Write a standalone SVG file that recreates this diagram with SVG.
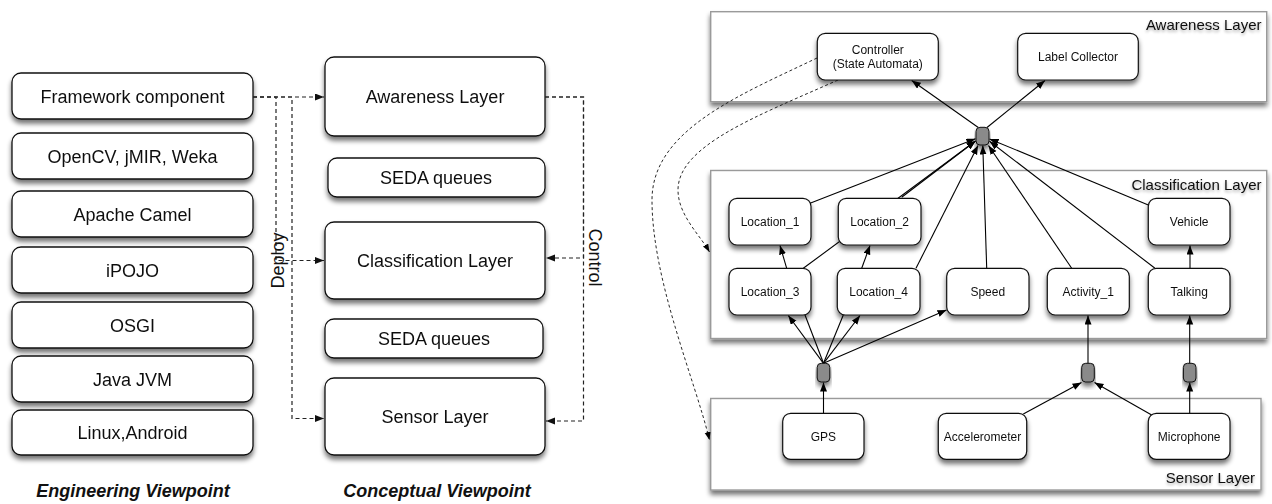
<svg xmlns="http://www.w3.org/2000/svg" width="1272" height="504" viewBox="0 0 1272 504">
<defs>
<filter id="sh" x="-10%" y="-20%" width="120%" height="160%">
<feGaussianBlur in="SourceAlpha" stdDeviation="2.5"/>
<feOffset dx="0" dy="4" result="b"/>
<feComponentTransfer><feFuncA type="linear" slope="0.55"/></feComponentTransfer>
<feMerge><feMergeNode/><feMergeNode in="SourceGraphic"/></feMerge>
</filter>
<filter id="tsh" x="-10%" y="-40%" width="120%" height="200%">
<feGaussianBlur in="SourceAlpha" stdDeviation="1.5"/>
<feOffset dx="0" dy="2"/>
<feComponentTransfer><feFuncA type="linear" slope="0.35"/></feComponentTransfer>
<feMerge><feMergeNode/><feMergeNode in="SourceGraphic"/></feMerge>
</filter>
<marker id="aL" markerUnits="userSpaceOnUse" markerWidth="10" markerHeight="8" refX="9" refY="3.5" orient="auto"><path d="M0,0 L9,3.5 L0,7 z" fill="#111"/></marker>
<marker id="aR" markerUnits="userSpaceOnUse" markerWidth="10" markerHeight="8" refX="9" refY="3.5" orient="auto"><path d="M0,0 L9,3.5 L0,7 z" fill="#000"/></marker>
<marker id="aD" markerUnits="userSpaceOnUse" markerWidth="9" markerHeight="7" refX="8" refY="3" orient="auto"><path d="M0,0 L8,3 L0,6 z" fill="#000"/></marker>
</defs>
<style>
.bx{fill:#fff;stroke:#111;stroke-width:1.3}
.lyr{fill:#fff;stroke:#9a9a9a;stroke-width:1.4}
.nd{fill:#fff;stroke:#111;stroke-width:1.2}
.jn{fill:#8a8a8a;stroke:#111;stroke-width:1}
.t18{font-family:"Liberation Sans",Arial,sans-serif;font-size:18px;fill:#111;text-anchor:middle}
.t12{font-family:"Liberation Sans",Arial,sans-serif;font-size:12px;fill:#111;text-anchor:middle}
.tl{font-family:"Liberation Sans",Arial,sans-serif;font-size:15px;fill:#111;text-anchor:end}
.cap{font-family:"Liberation Sans",Arial,sans-serif;font-size:18px;font-weight:bold;font-style:italic;fill:#111;text-anchor:middle}
.dl{fill:none;stroke:#222;stroke-width:1.2;stroke-dasharray:4,3}
.dc{fill:none;stroke:#111;stroke-width:0.9;stroke-dasharray:3,2.5}
.sl{fill:none;stroke:#000;stroke-width:1.1}
</style>

<!-- Engineering viewpoint -->
<g id="eng-framework" filter="url(#sh)"><rect class="bx" x="12" y="73" width="241" height="46" rx="9"/><text class="t18" x="132.5" y="102.5">Framework component</text></g>
<g id="eng-opencv" filter="url(#sh)"><rect class="bx" x="12" y="133" width="241" height="46" rx="9"/><text class="t18" x="132.5" y="162.5">OpenCV, jMIR, Weka</text></g>
<g id="eng-camel" filter="url(#sh)"><rect class="bx" x="12" y="191" width="241" height="46" rx="9"/><text class="t18" x="132.5" y="220.5">Apache Camel</text></g>
<g id="eng-ipojo" filter="url(#sh)"><rect class="bx" x="12" y="247" width="241" height="46" rx="9"/><text class="t18" x="132.5" y="276.5">iPOJO</text></g>
<g id="eng-osgi" filter="url(#sh)"><rect class="bx" x="12" y="302" width="241" height="46" rx="9"/><text class="t18" x="132.5" y="331.5">OSGI</text></g>
<g id="eng-jvm" filter="url(#sh)"><rect class="bx" x="12" y="356" width="241" height="46" rx="9"/><text class="t18" x="132.5" y="385.5">Java JVM</text></g>
<g id="eng-linux" filter="url(#sh)"><rect class="bx" x="12" y="410" width="241" height="45" rx="9"/><text class="t18" x="132.5" y="439">Linux,Android</text></g>

<!-- Conceptual viewpoint -->
<g id="con-awareness" filter="url(#sh)"><rect class="bx" x="325" y="57" width="220" height="79" rx="9"/><text class="t18" x="435" y="103">Awareness Layer</text></g>
<g id="con-seda1" filter="url(#sh)"><rect class="bx" x="328" y="158" width="217" height="39" rx="9"/><text class="t18" x="436" y="184">SEDA queues</text></g>
<g id="con-classification" filter="url(#sh)"><rect class="bx" x="325" y="222" width="220" height="77" rx="9"/><text class="t18" x="435" y="267">Classification Layer</text></g>
<g id="con-seda2" filter="url(#sh)"><rect class="bx" x="325" y="319" width="218" height="39" rx="9"/><text class="t18" x="434" y="345">SEDA queues</text></g>
<g id="con-sensor" filter="url(#sh)"><rect class="bx" x="325" y="378" width="220" height="77" rx="9"/><text class="t18" x="435" y="423">Sensor Layer</text></g>

<text class="cap" x="133" y="497">Engineering Viewpoint</text>
<text class="cap" x="437" y="497">Conceptual Viewpoint</text>

<!-- Right: layer containers -->
<g id="layer-awareness"><rect class="lyr" x="710.7" y="11.7" width="556" height="90" filter="url(#sh)"/><text class="tl" x="1261.5" y="29.5" filter="url(#tsh)">Awareness Layer</text></g>
<g id="layer-classification"><rect class="lyr" x="710.7" y="170.5" width="556" height="168" filter="url(#sh)"/><text class="tl" x="1261.5" y="190" filter="url(#tsh)">Classification Layer</text></g>
<g id="layer-sensor"><rect class="lyr" x="710.7" y="398.5" width="550.3" height="91.5" filter="url(#sh)"/><text class="tl" x="1255" y="482.7" filter="url(#tsh)">Sensor Layer</text></g>

<!-- connectors -->
<g id="connectors">
<!-- deploy -->
<path class="dl" d="M253,97 H324" marker-end="url(#aL)"/>
<path class="dl" d="M253,97 H276 V260.5 H324" marker-end="url(#aL)"/>
<path class="dl" d="M253,97 H292 V418.5 H324" marker-end="url(#aL)"/>
<!-- control -->
<path class="dl" d="M545,97 H583.5 V258 H546" marker-end="url(#aL)"/>
<path class="dl" d="M545,97 H583.5 V421 H546" marker-end="url(#aL)"/>
<!-- dashed curves from controller -->
<path class="dc" d="M817,58 C740,95 652,130 652,200 C652,280 695,380 709.5,440" marker-end="url(#aD)"/>
<path class="dc" d="M838,80 C760,115 678,145 678,190 C678,215 700,235 709.5,252" marker-end="url(#aD)"/>
<!-- top junction to awareness nodes -->
<path class="sl" d="M978.3,127.5 L911.7,80.5" marker-end="url(#aR)"/>
<path class="sl" d="M987,127.5 L1045,80.5" marker-end="url(#aR)"/>
<!-- classification to top junction -->
<path class="sl" d="M810,203.3 L975.5,138.8" marker-end="url(#aR)"/>
<path class="sl" d="M803.3,268.3 L975.5,141" marker-end="url(#aR)"/>
<path class="sl" d="M901.7,197.3 L975.5,141" marker-end="url(#aR)"/>
<path class="sl" d="M916,268.3 L978,145.5" marker-end="url(#aR)"/>
<path class="sl" d="M986.7,268.3 L982.8,145.5" marker-end="url(#aR)"/>
<path class="sl" d="M1071.7,268.3 L988.5,145.5" marker-end="url(#aR)"/>
<path class="sl" d="M1155,268.3 L989.5,141.2" marker-end="url(#aR)"/>
<path class="sl" d="M1148.3,205 L989.5,138.9" marker-end="url(#aR)"/>
<!-- inside classification -->
<path class="sl" d="M786.7,268.3 L780,245.5" marker-end="url(#aR)"/>
<path class="sl" d="M861.7,268.3 L870,245.5" marker-end="url(#aR)"/>
<path class="sl" d="M1190,268.3 V245.5" marker-end="url(#aR)"/>
<!-- GPS junction -->
<path class="sl" d="M823.5,413.3 V382.5" marker-end="url(#aR)"/>
<path class="sl" d="M823.5,363.3 L788.3,315.5" marker-end="url(#aR)"/>
<path class="sl" d="M823.5,363.3 L860,315.5" marker-end="url(#aR)"/>
<path class="sl" d="M823.5,363.3 L946.5,310" marker-end="url(#aR)"/>
<path class="sl" d="M805,315 L823.5,363.3"/>
<path class="sl" d="M843.3,315 L823.5,363.3"/>
<!-- accelerometer / microphone junctions -->
<path class="sl" d="M1023.3,414 L1081.5,382.5" marker-end="url(#aR)"/>
<path class="sl" d="M1151.7,415 L1094.5,382.5" marker-end="url(#aR)"/>
<path class="sl" d="M1088,363.3 V315.5" marker-end="url(#aR)"/>
<path class="sl" d="M1189.7,413.3 V382.5" marker-end="url(#aR)"/>
<path class="sl" d="M1189.7,363.3 V315.5" marker-end="url(#aR)"/>
</g>

<!-- junctions -->
<g id="junction-top"><rect class="jn" x="976" y="127.3" width="13" height="17.7" rx="4" filter="url(#sh)"/></g>
<g id="junction-gps"><rect class="jn" x="817.2" y="363.3" width="12.6" height="18.7" rx="4" filter="url(#sh)"/></g>
<g id="junction-acc"><rect class="jn" x="1081.7" y="363.3" width="12.6" height="18.7" rx="4" filter="url(#sh)"/></g>
<g id="junction-mic"><rect class="jn" x="1183.4" y="363.3" width="12.6" height="18.7" rx="4" filter="url(#sh)"/></g>

<!-- awareness nodes -->
<g id="controller" filter="url(#sh)"><rect class="nd" x="817.3" y="33.3" width="121" height="46.7" rx="8"/><text class="t12" x="877.8" y="54">Controller</text><text class="t12" x="877.8" y="68.3">(State Automata)</text></g>
<g id="label-collector" filter="url(#sh)"><rect class="nd" x="1017.7" y="33.3" width="120.6" height="46.7" rx="8"/><text class="t12" x="1078" y="60.7">Label Collector</text></g>

<!-- classification nodes -->
<g id="location1" filter="url(#sh)"><rect class="nd" x="729" y="198.3" width="82" height="46.7" rx="8"/><text class="t12" x="770" y="226">Location_1</text></g>
<g id="location2" filter="url(#sh)"><rect class="nd" x="838.3" y="198.3" width="82.7" height="46.7" rx="8"/><text class="t12" x="879.6" y="226">Location_2</text></g>
<g id="vehicle" filter="url(#sh)"><rect class="nd" x="1148.3" y="198.3" width="81.7" height="46.7" rx="8"/><text class="t12" x="1189.2" y="226">Vehicle</text></g>
<g id="location3" filter="url(#sh)"><rect class="nd" x="729" y="268.3" width="82" height="46.7" rx="8"/><text class="t12" x="770" y="296">Location_3</text></g>
<g id="location4" filter="url(#sh)"><rect class="nd" x="837.3" y="268.3" width="82.7" height="46.7" rx="8"/><text class="t12" x="878.6" y="296">Location_4</text></g>
<g id="speed" filter="url(#sh)"><rect class="nd" x="946.7" y="268.3" width="82.3" height="46.7" rx="8"/><text class="t12" x="987.8" y="296">Speed</text></g>
<g id="activity1" filter="url(#sh)"><rect class="nd" x="1047.3" y="268.3" width="82" height="46.7" rx="8"/><text class="t12" x="1088.3" y="296">Activity_1</text></g>
<g id="talking" filter="url(#sh)"><rect class="nd" x="1148.3" y="268.3" width="81.7" height="46.7" rx="8"/><text class="t12" x="1189.2" y="296">Talking</text></g>

<!-- sensor nodes -->
<g id="gps" filter="url(#sh)"><rect class="nd" x="782.7" y="413.3" width="81.3" height="46" rx="8"/><text class="t12" x="823.4" y="440.8">GPS</text></g>
<g id="accelerometer" filter="url(#sh)"><rect class="nd" x="938.3" y="413.3" width="88.4" height="46" rx="8"/><text class="t12" x="982.5" y="440.8">Accelerometer</text></g>
<g id="microphone" filter="url(#sh)"><rect class="nd" x="1148.3" y="413.3" width="81.7" height="46" rx="8"/><text class="t12" x="1189.2" y="440.8">Microphone</text></g>

<!-- rotated labels -->
<text class="t18" transform="translate(283.5,260.5) rotate(-90)" x="0" y="0">Deploy</text>
<text class="t18" transform="translate(588.5,257.5) rotate(90)" x="0" y="0">Control</text>
</svg>
